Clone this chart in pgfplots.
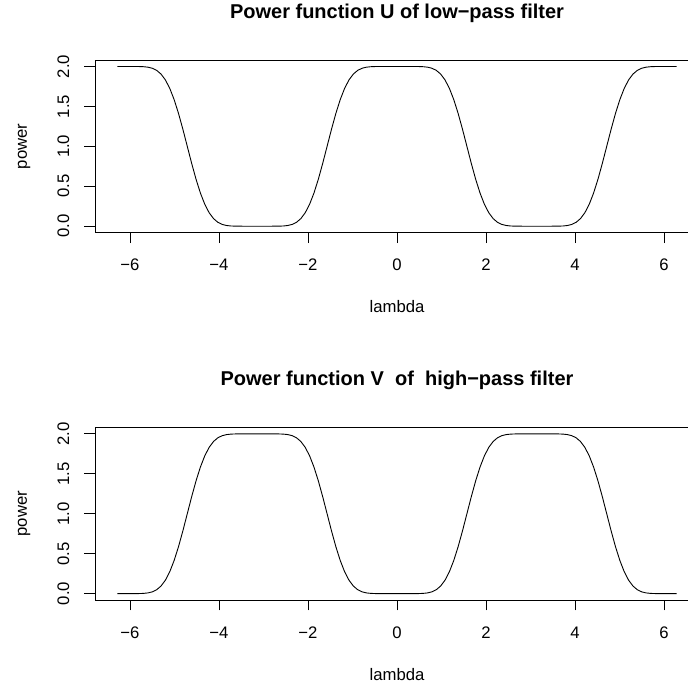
\documentclass[border=0pt]{standalone}
\usepackage{fontspec}
\setmainfont{Liberation Sans}
\usepackage{pgfplots}
\usepackage{pgfplotstable}
\pgfplotsset{compat=1.18}

\pgfplotstableread{
lam U V
-6.28319 2 0
-6.18501 2 0
-6.08684 2 0
-5.98866 1.99999 0.00001
-5.89049 1.99987 0.00013
-5.79231 1.99926 0.00074
-5.69414 1.99714 0.00286
-5.59596 1.99126 0.00874
-5.49779 1.97780 0.02220
-5.39961 1.95117 0.04883
-5.30144 1.90456 0.09544
-5.20326 1.83097 0.16903
-5.10509 1.72492 0.27508
-5.00691 1.58414 0.41586
-4.90874 1.41088 0.58912
-4.81056 1.21238 0.78762
-4.71239 1 1
-4.61421 0.78762 1.21238
-4.51604 0.58912 1.41088
-4.41786 0.41586 1.58414
-4.31969 0.27508 1.72492
-4.22152 0.16903 1.83097
-4.12334 0.09544 1.90456
-4.02517 0.04883 1.95117
-3.92699 0.02220 1.97780
-3.82882 0.00874 1.99126
-3.73064 0.00286 1.99714
-3.63247 0.00074 1.99926
-3.53429 0.00013 1.99987
-3.43612 0.00001 1.99999
-3.33794 0 2
-3.23977 0 2
-3.14159 0 2
-3.04342 0 2
-2.94524 0 2
-2.84707 0.00001 1.99999
-2.74889 0.00013 1.99987
-2.65072 0.00074 1.99926
-2.55254 0.00286 1.99714
-2.45437 0.00874 1.99126
-2.35619 0.02220 1.97780
-2.25802 0.04883 1.95117
-2.15984 0.09544 1.90456
-2.06167 0.16903 1.83097
-1.96350 0.27508 1.72492
-1.86532 0.41586 1.58414
-1.76715 0.58912 1.41088
-1.66897 0.78762 1.21238
-1.57080 1 1
-1.47262 1.21238 0.78762
-1.37445 1.41088 0.58912
-1.27627 1.58414 0.41586
-1.17810 1.72492 0.27508
-1.07992 1.83097 0.16903
-0.98175 1.90456 0.09544
-0.88357 1.95117 0.04883
-0.78540 1.97780 0.02220
-0.68722 1.99126 0.00874
-0.58905 1.99714 0.00286
-0.49087 1.99926 0.00074
-0.39270 1.99987 0.00013
-0.29452 1.99999 0.00001
-0.19635 2 0
-0.09817 2 0
0 2 0
0.09817 2 0
0.19635 2 0
0.29452 1.99999 0.00001
0.39270 1.99987 0.00013
0.49087 1.99926 0.00074
0.58905 1.99714 0.00286
0.68722 1.99126 0.00874
0.78540 1.97780 0.02220
0.88357 1.95117 0.04883
0.98175 1.90456 0.09544
1.07992 1.83097 0.16903
1.17810 1.72492 0.27508
1.27627 1.58414 0.41586
1.37445 1.41088 0.58912
1.47262 1.21238 0.78762
1.57080 1 1
1.66897 0.78762 1.21238
1.76715 0.58912 1.41088
1.86532 0.41586 1.58414
1.96350 0.27508 1.72492
2.06167 0.16903 1.83097
2.15984 0.09544 1.90456
2.25802 0.04883 1.95117
2.35619 0.02220 1.97780
2.45437 0.00874 1.99126
2.55254 0.00286 1.99714
2.65072 0.00074 1.99926
2.74889 0.00013 1.99987
2.84707 0.00001 1.99999
2.94524 0 2
3.04342 0 2
3.14159 0 2
3.23977 0 2
3.33794 0 2
3.43612 0.00001 1.99999
3.53429 0.00013 1.99987
3.63247 0.00074 1.99926
3.73064 0.00286 1.99714
3.82882 0.00874 1.99126
3.92699 0.02220 1.97780
4.02517 0.04883 1.95117
4.12334 0.09544 1.90456
4.22152 0.16903 1.83097
4.31969 0.27508 1.72492
4.41786 0.41586 1.58414
4.51604 0.58912 1.41088
4.61421 0.78762 1.21238
4.71239 1 1
4.81056 1.21238 0.78762
4.90874 1.41088 0.58912
5.00691 1.58414 0.41586
5.10509 1.72492 0.27508
5.20326 1.83097 0.16903
5.30144 1.90456 0.09544
5.39961 1.95117 0.04883
5.49779 1.97780 0.02220
5.59596 1.99126 0.00874
5.69414 1.99714 0.00286
5.79231 1.99926 0.00074
5.89049 1.99987 0.00013
5.98866 1.99999 0.00001
6.08684 2 0
6.18501 2 0
6.28319 2 0
}\powertab

\pgfplotsset{
  rstyle/.style={
    anchor=south west,
    width=604pt, height=172.5pt, scale only axis,
    xmin=-6.7859, xmax=6.7859, ymin=-0.08, ymax=2.08,
    axis line style={line width=0.9pt, black},
    tick style={line width=0.9pt, black},
    tick align=outside,
    major tick length=10.5pt,
    xtick pos=bottom, ytick pos=left,
    xtick={-6,-4,-2,0,2,4,6},
    xticklabels={−6,−4,−2,0,2,4,6},
    ytick={0,0.5,1,1.5,2},
    yticklabels={0.0,0.5,1.0,1.5,2.0},
    tick label style={font=\fontsize{16.7}{20}\selectfont},
    label style={font=\fontsize{16.7}{20}\selectfont},
    xticklabel style={anchor=center, yshift=-21.8pt},
    yticklabel style={anchor=center, xshift=-21pt, rotate=90},
    xlabel style={at={(axis description cs:0.5,-0.4307)}, anchor=center},
    ylabel style={at={(axis description cs:-0.11755,0.5)}, anchor=center, rotate=0},
    title style={at={(axis description cs:0.5,1.2087)}, anchor=base, font=\fontsize{20}{24}\selectfont\bfseries},
    xlabel={lambda}, ylabel={power},
  }
}

\begin{document}
\begin{tikzpicture}
\useasboundingbox (0pt,0pt) rectangle (688pt,685pt);
\clip (0pt,0pt) rectangle (688pt,685pt);
\begin{axis}[rstyle, at={(95pt,452.4pt)},
  title={Power function U of low−pass filter}]
\addplot[black, line width=0.9pt] table[x=lam, y=U] {\powertab};
\end{axis}
\begin{axis}[rstyle, at={(95pt,85pt)},
  title={Power function V\ \ of\ \ high−pass filter}]
\addplot[black, line width=0.9pt] table[x=lam, y=V] {\powertab};
\end{axis}
\end{tikzpicture}
\end{document}
